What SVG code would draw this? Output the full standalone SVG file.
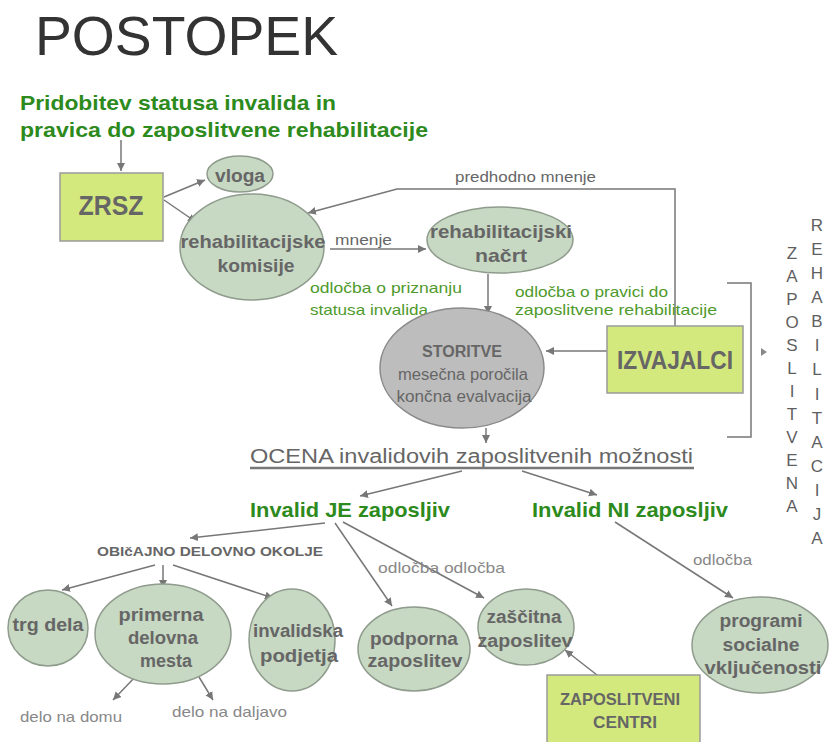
<svg xmlns="http://www.w3.org/2000/svg" width="835" height="742" viewBox="0 0 835 742">
<style>
.t{font-family:"Liberation Sans",Arial,sans-serif;fill:#666;}
.b{font-weight:bold;}
.gh{font-family:"Liberation Sans",Arial,sans-serif;font-weight:bold;fill:#2d8a1c;}
.gl{font-family:"Liberation Sans",Arial,sans-serif;fill:#4f9a2c;}
.el{fill:#c7d8c3;stroke:#8f9c8d;stroke-width:1.5;}
.gy{fill:#bdbdbd;stroke:#8a8a8a;stroke-width:1.5;}
.bx{fill:#d3e97d;stroke:#9a9a9a;stroke-width:1.5;}
.c{fill:none;stroke:#777;stroke-width:1.5;}
.ca{fill:none;stroke:#777;stroke-width:1.5;marker-end:url(#ah);}
.v{font-family:"Liberation Sans",Arial,sans-serif;fill:#5f5f5f;font-size:17px;text-anchor:middle;}
</style>
<defs>
<marker id="ah" markerWidth="10" markerHeight="10" refX="8" refY="4" orient="auto" markerUnits="userSpaceOnUse">
<path d="M0,0 L8,4 L0,8 z" fill="#777"/>
</marker>
</defs>
<rect width="835" height="742" fill="#fff"/>

<text x="35" y="55" font-family="Liberation Sans, Arial, sans-serif" font-size="55" fill="#333" textLength="303" lengthAdjust="spacingAndGlyphs">POSTOPEK</text>

<g id="heading">
<text class="gh" x="20" y="110" font-size="21" textLength="316" lengthAdjust="spacingAndGlyphs">Pridobitev statusa invalida in</text>
<text class="gh" x="20" y="137" font-size="21" textLength="408" lengthAdjust="spacingAndGlyphs">pravica do zaposlitvene rehabilitacije</text>
</g>

<g id="connectors">
<line class="ca" x1="121" y1="140" x2="121" y2="171"/>
<line class="ca" x1="164" y1="197" x2="205" y2="180"/>
<line class="ca" x1="164" y1="200" x2="196" y2="222"/>
<polyline class="ca" points="675,326 675,189 397,189 308,213"/>
<line class="ca" x1="330" y1="249" x2="426" y2="249"/>
<line class="ca" x1="488" y1="274" x2="488" y2="314"/>
<line class="ca" x1="607" y1="351" x2="546" y2="351"/>
<polyline class="c" points="727,283 751,283 751,437 727,437"/>
<path d="M761,348 L767,352 L761,356 z" fill="#888"/>
<line class="ca" x1="486" y1="428" x2="486" y2="443"/>
<line class="ca" x1="462" y1="471" x2="360" y2="496"/>
<line class="ca" x1="522" y1="471" x2="597" y2="495"/>
<line class="ca" x1="325" y1="523" x2="190" y2="538"/>
<line class="ca" x1="335" y1="523" x2="392" y2="606"/>
<line class="ca" x1="343" y1="522" x2="484" y2="598"/>
<line class="ca" x1="155" y1="565" x2="62" y2="590"/>
<line class="ca" x1="163" y1="565" x2="163" y2="588"/>
<line class="ca" x1="173" y1="565" x2="273" y2="598"/>
<line class="ca" x1="615" y1="522" x2="733" y2="598"/>
<line class="ca" x1="597" y1="675" x2="565" y2="650"/>
<line class="ca" x1="137" y1="675" x2="113" y2="700"/>
<line class="ca" x1="199" y1="677" x2="213" y2="700"/>
</g>

<g id="labels">
<text class="t" x="455" y="182" font-size="15" textLength="141" lengthAdjust="spacingAndGlyphs">predhodno mnenje</text>
<text class="t" x="335" y="245" font-size="15" textLength="57" lengthAdjust="spacingAndGlyphs">mnenje</text>
<text class="gl" x="310" y="293" font-size="15" textLength="152" lengthAdjust="spacingAndGlyphs">odločba o priznanju</text>
<text class="gl" x="310" y="315" font-size="15" textLength="118" lengthAdjust="spacingAndGlyphs">statusa  invalida</text>
<text class="gl" x="515" y="297" font-size="15" textLength="153" lengthAdjust="spacingAndGlyphs">odločba o pravici do</text>
<text class="gl" x="515" y="315" font-size="15" textLength="202" lengthAdjust="spacingAndGlyphs">zaposlitvene rehabilitacije</text>
<text class="t" x="250" y="463" font-size="20" textLength="443" lengthAdjust="spacingAndGlyphs">OCENA invalidovih zaposlitvenih  možnosti</text>
<line x1="250" y1="468" x2="694" y2="468" stroke="#777" stroke-width="2.5"/>
<text class="gh" x="250" y="517" font-size="21" textLength="200" lengthAdjust="spacingAndGlyphs">Invalid JE zaposljiv</text>
<text class="gh" x="532" y="517" font-size="21" textLength="196" lengthAdjust="spacingAndGlyphs">Invalid NI zaposljiv</text>
<text class="t b" x="97" y="556" font-size="13" textLength="226" lengthAdjust="spacingAndGlyphs">OBIčAJNO DELOVNO OKOLJE</text>
<text class="t" x="378" y="573" font-size="15" style="fill:#888" textLength="127" lengthAdjust="spacingAndGlyphs">odločba  odločba</text>
<text class="t" x="693" y="565" font-size="15" style="fill:#888" textLength="59" lengthAdjust="spacingAndGlyphs">odločba</text>
<text class="t" x="20" y="722" font-size="15" style="fill:#888" textLength="102" lengthAdjust="spacingAndGlyphs">delo na domu</text>
<text class="t" x="172" y="717" font-size="15" style="fill:#888" textLength="115" lengthAdjust="spacingAndGlyphs">delo na daljavo</text>
</g>

<g id="zrsz">
<rect class="bx" x="60" y="173" width="103" height="68"/>
<text class="t b" x="111" y="215" font-size="28" text-anchor="middle" textLength="65" lengthAdjust="spacingAndGlyphs">ZRSZ</text>
</g>
<g id="vloga">
<ellipse class="el" cx="240" cy="174" rx="33" ry="18"/>
<text class="t b" x="240" y="182" font-size="18" text-anchor="middle" textLength="50" lengthAdjust="spacingAndGlyphs">vloga</text>
</g>
<g id="komisije">
<ellipse class="el" cx="252" cy="247" rx="72" ry="53"/>
<text class="t b" x="253" y="248" font-size="19" text-anchor="middle" textLength="145" lengthAdjust="spacingAndGlyphs">rehabilitacijske</text>
<text class="t b" x="256" y="272" font-size="19" text-anchor="middle" textLength="77" lengthAdjust="spacingAndGlyphs">komisije</text>
</g>
<g id="nacrt">
<ellipse class="el" cx="500" cy="240" rx="73" ry="33"/>
<text class="t b" x="501" y="238" font-size="19" text-anchor="middle" textLength="142" lengthAdjust="spacingAndGlyphs">rehabilitacijski</text>
<text class="t b" x="501" y="262" font-size="19" text-anchor="middle" textLength="52" lengthAdjust="spacingAndGlyphs">načrt</text>
</g>
<g id="storitve">
<ellipse class="gy" cx="462" cy="368" rx="82" ry="60"/>
<text class="t b" x="462" y="357" font-size="16" text-anchor="middle" textLength="80" lengthAdjust="spacingAndGlyphs">STORITVE</text>
<text class="t" x="463" y="380" font-size="16" text-anchor="middle" textLength="130" lengthAdjust="spacingAndGlyphs">mesečna poročila</text>
<text class="t" x="464" y="402" font-size="16" text-anchor="middle" textLength="135" lengthAdjust="spacingAndGlyphs">končna evalvacija</text>
</g>
<g id="izvajalci">
<rect class="bx" x="607" y="326" width="136" height="67"/>
<text class="t b" x="675" y="369" font-size="26" text-anchor="middle" textLength="116" lengthAdjust="spacingAndGlyphs">IZVAJALCI</text>
</g>
<g id="vertical-labels">
<text class="v" x="792" y="259">Z</text>
<text class="v" x="792" y="282">A</text>
<text class="v" x="792" y="305">P</text>
<text class="v" x="792" y="328">O</text>
<text class="v" x="792" y="351">S</text>
<text class="v" x="792" y="374">L</text>
<text class="v" x="792" y="397">I</text>
<text class="v" x="792" y="420">T</text>
<text class="v" x="792" y="443">V</text>
<text class="v" x="792" y="466">E</text>
<text class="v" x="792" y="489">N</text>
<text class="v" x="792" y="512">A</text>
<text class="v" x="817" y="231">R</text>
<text class="v" x="817" y="255">E</text>
<text class="v" x="817" y="279">H</text>
<text class="v" x="817" y="303">A</text>
<text class="v" x="817" y="327">B</text>
<text class="v" x="817" y="351">I</text>
<text class="v" x="817" y="375">L</text>
<text class="v" x="817" y="400">I</text>
<text class="v" x="817" y="424">T</text>
<text class="v" x="817" y="448">A</text>
<text class="v" x="817" y="472">C</text>
<text class="v" x="817" y="496">I</text>
<text class="v" x="817" y="520">J</text>
<text class="v" x="817" y="544">A</text>
</g>
<g id="trg">
<ellipse class="el" cx="48" cy="628" rx="40" ry="38"/>
<text class="t b" x="48" y="631" font-size="18" text-anchor="middle" textLength="71" lengthAdjust="spacingAndGlyphs">trg dela</text>
</g>
<g id="primerna">
<ellipse class="el" cx="163" cy="634" rx="68" ry="50"/>
<text class="t b" x="161" y="621" font-size="18" text-anchor="middle" textLength="85" lengthAdjust="spacingAndGlyphs">primerna</text>
<text class="t b" x="163" y="644" font-size="18" text-anchor="middle" textLength="70" lengthAdjust="spacingAndGlyphs">delovna</text>
<text class="t b" x="166" y="667" font-size="18" text-anchor="middle" textLength="52" lengthAdjust="spacingAndGlyphs">mesta</text>
</g>
<g id="invalidska">
<ellipse class="el" cx="292" cy="640" rx="43" ry="51"/>
<text class="t b" x="298" y="637" font-size="18" text-anchor="middle" textLength="90" lengthAdjust="spacingAndGlyphs">invalidska</text>
<text class="t b" x="299" y="662" font-size="18" text-anchor="middle" textLength="78" lengthAdjust="spacingAndGlyphs">podjetja</text>
</g>
<g id="podporna">
<ellipse class="el" cx="414" cy="649" rx="56" ry="42"/>
<text class="t b" x="414" y="645" font-size="18" text-anchor="middle" textLength="88" lengthAdjust="spacingAndGlyphs">podporna</text>
<text class="t b" x="415" y="667" font-size="18" text-anchor="middle" textLength="95" lengthAdjust="spacingAndGlyphs">zaposlitev</text>
</g>
<g id="zascitna">
<ellipse class="el" cx="526" cy="627" rx="48" ry="38"/>
<text class="t b" x="524" y="623" font-size="18" text-anchor="middle" textLength="75" lengthAdjust="spacingAndGlyphs">zaščitna</text>
<text class="t b" x="525" y="647" font-size="18" text-anchor="middle" textLength="95" lengthAdjust="spacingAndGlyphs">zaposlitev</text>
</g>
<g id="programi">
<ellipse class="el" cx="760" cy="645" rx="68" ry="48"/>
<text class="t b" x="761" y="627" font-size="18" text-anchor="middle" textLength="83" lengthAdjust="spacingAndGlyphs">programi</text>
<text class="t b" x="761" y="651" font-size="18" text-anchor="middle" textLength="77" lengthAdjust="spacingAndGlyphs">socialne</text>
<text class="t b" x="763" y="674" font-size="18" text-anchor="middle" textLength="117" lengthAdjust="spacingAndGlyphs">vključenosti</text>
</g>
<g id="centri">
<rect class="bx" x="547" y="675" width="153" height="75"/>
<text class="t b" x="620" y="705" font-size="17" text-anchor="middle" textLength="120" lengthAdjust="spacingAndGlyphs">ZAPOSLITVENI</text>
<text class="t b" x="625" y="728" font-size="17" text-anchor="middle" textLength="64" lengthAdjust="spacingAndGlyphs">CENTRI</text>
</g>
</svg>
